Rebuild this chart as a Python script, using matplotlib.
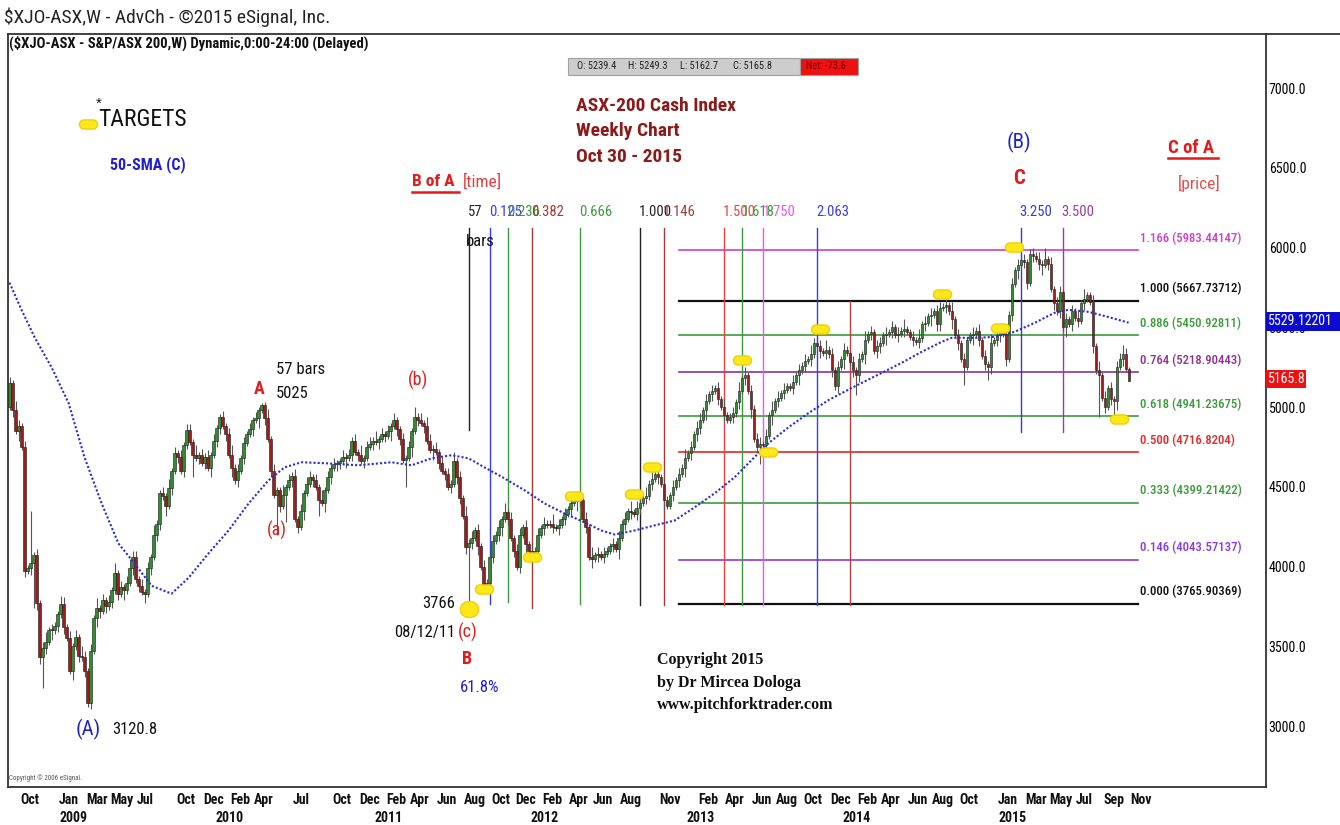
import matplotlib
matplotlib.use("Agg")
import matplotlib.pyplot as plt
import matplotlib.transforms as mtransforms
from matplotlib import font_manager
from matplotlib.lines import Line2D
from matplotlib.patches import Rectangle
from matplotlib.path import Path
import numpy as np
import pandas as pd

W, H = 1340, 825


def first_font(names):
    for name in names:
        try:
            font_manager.findfont(font_manager.FontProperties(family=name),
                                  fallback_to_default=False)
            return name
        except ValueError:
            continue
    return "DejaVu Sans"


NARROW_NAME = first_font(["Liberation Sans Narrow", "Arial Narrow", "Roboto Condensed",
                          "DejaVu Sans Condensed", "Open Sans Condensed", "Liberation Sans"])
NARROW = [NARROW_NAME, "DejaVu Sans"]
ARIAL = ["Liberation Sans", "DejaVu Sans"]
SERIF = ["Liberation Serif", "DejaVu Serif"]

# ---- weekly data (Fridays from 2008-09-05) ----
START_WEEK = "2008-09-05"
FIRST_OPEN = 5000
CLOSES = [
    5150, 4980, 4850, 4880, 4750, 3975, 3990, 4020, 4070, 3770,
    3430, 3490, 3530, 3600, 3600, 3630, 3700, 3767, 3620, 3553,
    3346, 3500, 3560, 3440, 3430, 3346, 3145, 3472, 3679, 3742,
    3720, 3790, 3750, 3780, 3850, 3960, 3830, 3870, 3850, 3900,
    3990, 4057, 3920, 3880, 3840, 3830, 3990, 4060, 4200, 4270,
    4460, 4440, 4380, 4490, 4600, 4710, 4690, 4600, 4760, 4855,
    4780, 4700, 4680, 4700, 4650, 4690, 4620, 4700, 4790, 4870,
    4935, 4880, 4830, 4700, 4620, 4540, 4600, 4680, 4775, 4830,
    4860, 4920, 4930, 4980, 5010, 4930, 4800, 4600, 4450, 4480,
    4380, 4450, 4500, 4540, 4570, 4300, 4250, 4350, 4460, 4520,
    4560, 4540, 4500, 4420, 4400, 4480, 4560, 4620, 4640, 4650,
    4660, 4690, 4680, 4700, 4790, 4720, 4700, 4660, 4680, 4750,
    4770, 4790, 4780, 4800, 4830, 4820, 4850, 4880, 4920, 4860,
    4800, 4670, 4680, 4750, 4850, 4940, 4920, 4900, 4880, 4790,
    4730, 4740, 4720, 4650, 4600, 4580, 4500, 4520, 4660, 4560,
    4430, 4320, 4120, 4150, 4180, 4230, 4130, 4000, 3890, 3900,
    4060, 4160, 4200, 4250, 4300, 4340, 4300, 4180, 4100, 4000,
    4200, 4250, 4140, 4100, 4060, 4100, 4200, 4240, 4270, 4260,
    4270, 4250, 4240, 4260, 4300, 4330, 4360, 4400, 4410, 4430,
    4420, 4300, 4250, 4060, 4050, 4070, 4080, 4060, 4080, 4100,
    4130, 4140, 4110, 4180, 4270, 4300, 4350, 4340, 4330, 4370,
    4400, 4430, 4440, 4520, 4550, 4580, 4560, 4520, 4420, 4380,
    4450, 4500, 4540, 4580, 4620, 4680, 4710, 4750, 4830, 4870,
    4920, 4980, 5040, 5080, 5100, 5120, 5050, 5000, 4950, 4920,
    4940, 4960, 5030, 5100, 5180, 5200, 5100, 4990, 4800, 4750,
    4770, 4760, 4820, 4950, 4980, 5040, 5060, 5090, 5110, 5130,
    5120, 5160, 5200, 5230, 5260, 5290, 5300, 5330, 5400, 5380,
    5350, 5340, 5360, 5330, 5230, 5130, 5250, 5300, 5360, 5340,
    5280, 5230, 5200, 5300, 5330, 5420, 5460, 5470, 5350, 5380,
    5400, 5450, 5460, 5470, 5500, 5450, 5460, 5480, 5490, 5470,
    5440, 5420, 5410, 5430, 5520, 5530, 5570, 5580, 5600, 5520,
    5620, 5630, 5640, 5600, 5550, 5450, 5400, 5300, 5250, 5420,
    5450, 5460, 5480, 5420, 5320, 5270, 5250, 5400, 5420, 5450,
    5470, 5460, 5300, 5580, 5770, 5860, 5890, 5920, 5910, 5780,
    5960, 5950, 5930, 5900, 5890, 5930, 5900, 5740, 5650, 5600,
    5720, 5500, 5550, 5520, 5600, 5560, 5540, 5650, 5680, 5700,
    5660, 5380, 5230, 5200, 5060, 5000, 5120, 5050, 5040, 5250,
    5300, 5330, 5239.4, 5165.8,
]

# wick lengths beyond the body, one digit per week, in units of WICK_UNIT points
WICK_UNIT = 20
WICK_UP = (
    "2132121312" "1231211221" "2121321213" "1212131212" "3121212131"
    "1213121212" "2131212121" "1212312121" "2121213121" "1312121212"
    "2121312121" "1212121312" "2131212121" "1212131213" "2121212131"
    "2131212121" "1212131212" "2121212121" "1312121212" "2121312121"
    "1212121312" "2131212121" "1212131212" "2121212131" "1213121212"
    "2121312121" "1212121312" "2131212121" "1212131212" "2121212131"
    "1213121212" "2121312121" "1212121312" "2131212121" "1212131212"
    "2121212131" "1213121212" "2121"
)
WICK_DN = (
    "1213121212" "2121312121" "1312121213" "2121212131" "1212131212"
    "2131212121" "1212121312" "2121312121" "1213121212" "2121212131"
    "1212131212" "2131212121" "1212121312" "2121312121" "1312121212"
    "2121213121" "1212312121" "2131212121" "1212121213" "2121312121"
    "1213121212" "2121212131" "1212131212" "2131212121" "1212121312"
    "2121312121" "1213121212" "2121212131" "1212131212" "2131212121"
    "1212121312" "2121312121" "1312121212" "2121213121" "1212312121"
    "2131212121" "1212121213" "1212"
)
HIGH_OVERRIDE = {7: 4350, 17: 3818, 41: 4100, 84: 5025, 190: 4460, 245: 5250,
                 268: 5434, 340: 5990, 345: 5996, 371: 5390, 373: 5249.3}
LOW_OVERRIDE = {8: 3740, 11: 3240, 26: 3120.8, 61: 4560, 89: 4200, 92: 4280,
                96: 4210, 103: 4320, 132: 4500, 153: 3765.9, 159: 3850,
                250: 4640, 282: 5075, 318: 5138, 326: 5170, 339: 5740,
                363: 4940, 368: 4918, 373: 5162.7}

# 50-week SMA (week index, value)
SMA_WEEK = [0, 4, 8.3, 14, 19.7, 25, 30.7, 36.3, 41.7, 47.3, 54, 59.7, 66.3, 73,
            79.7, 86.3, 91.7, 97.3, 105, 116.3, 127.3, 134, 140.7, 147.3, 153,
            158.3, 165, 171.7, 178.3, 185, 191.7, 197.3, 201.7, 208.3, 215,
            221.7, 228.3, 235, 241.7, 248.3, 253, 259.7, 266.3, 273, 279.7, 284,
            290.7, 297.3, 304, 310.7, 314, 321.7, 328.3, 335, 341.7, 348.3, 353,
            359.7, 366, 373]
SMA_VALUE = [5780, 5610, 5440, 5250, 5025, 4685, 4396, 4145, 4019, 3880, 3830,
             3930, 4082, 4226, 4396, 4540, 4622, 4654, 4648, 4635, 4654, 4635,
             4679, 4698, 4679, 4622, 4553, 4478, 4396, 4333, 4277, 4226, 4201,
             4226, 4258, 4289, 4371, 4459, 4560, 4686, 4774, 4874, 4962, 5044,
             5110, 5151, 5214, 5277, 5346, 5409, 5434, 5434, 5440, 5472, 5528,
             5591, 5610, 5597, 5566, 5529.12201]

# yellow target marks
TARGET_WEEK = [158.3, 174.3, 188, 208.3, 214.3, 244, 252.7, 270, 310.7, 330, 334.7, 369.7]
TARGET_PRICE = [3862, 4057, 4440, 4453, 4623, 5296, 4717, 5491, 5711, 5497, 6006, 4925]
B_TARGET = (153, 3736)

# Fibonacci price levels (C of A)
FIB_RATIO = ["1.166", "1.000", "0.886", "0.764", "0.618", "0.500", "0.333", "0.146", "0.000"]
FIB_PRICE = ["5983.44147", "5667.73712", "5450.92811", "5218.90443", "4941.23675",
             "4716.8204", "4399.21422", "4043.57137", "3765.90369"]
FIB_COLOR = ["#cc3fcc", "#111111", "#3c9a3c", "#8e3290", "#3c9a3c", "#e32626",
             "#3c9a3c", "#8c3ad8", "#111111"]
FIB_START, FIB_END = 223.3, 376.3

# Fibonacci time lines (B of A)
TIME_TEXT = ["57", "0.125", "0.236", "0.382", "0.666", "1.000", "1.146", "1.500",
             "1.618", "1.750", "2.063", "", "3.250", "3.500"]
TIME_WEEK = [153, 160, 166, 174, 190, 210, 218, 238, 244.3, 251.3, 269.3, 280.3, 337, 351]
TIME_COLOR = ["#222222", "#3a3aee", "#3c9a3c", "#a33a3a", "#3c9a3c", "#222222",
              "#a33a3a", "#ee4040", "#3c9a3c", "#ee55ee", "#3a3aee", "#b84040",
              "#3a3acc", "#9b3c9b"]
TIME_TOP = [6120, 6120, 6120, 6120, 6120, 6120, 6120, 6120, 6120, 6120, 6120, 5668, 6120, 6120]
TIME_BOTTOM = [4855, 3767, 3780, 3740, 3767, 3760, 3760, 3760, 3760, 3760, 3760, 3760, 4845, 4845]

MONTH_TICKS = ["2008-10", "2009-01", "2009-03", "2009-05", "2009-07", "2009-10",
               "2009-12", "2010-02", "2010-04", "2010-07", "2010-10", "2010-12",
               "2011-02", "2011-04", "2011-06", "2011-08", "2011-10", "2011-12",
               "2012-02", "2012-04", "2012-06", "2012-08", "2012-11", "2013-02",
               "2013-04", "2013-06", "2013-08", "2013-10", "2013-12", "2014-02",
               "2014-04", "2014-06", "2014-08", "2014-10", "2015-01", "2015-03",
               "2015-05", "2015-07", "2015-09", "2015-11"]
YEAR_TICKS = ["2009", "2010", "2011", "2012", "2013", "2014", "2015"]
PRICE_TICKS = [3000, 3500, 4000, 4500, 5000, 5500, 6000, 6500, 7000]


def put(fig, x, y, s, **kw):
    kw.setdefault("va", "center")
    kw.setdefault("ha", "left")
    return fig.text(x / W, 1 - y / H, s, **kw)


def stadium(aspect=2.0, n=10):
    t = np.linspace(-np.pi / 2, np.pi / 2, n)
    r = 1.0 / aspect
    right = np.c_[1 - r + r * np.cos(t), r * np.sin(t)]
    left = np.c_[-(1 - r) - r * np.cos(t), -r * np.sin(t)]
    verts = np.vstack([right, left, right[:1]])
    return Path(verts, closed=True)


closes = np.array(CLOSES, dtype=float)
n = len(closes)
opens = np.r_[FIRST_OPEN, closes[:-1]]
up = np.array([int(c) for c in WICK_UP[:n]]) * WICK_UNIT
dn = np.array([int(c) for c in WICK_DN[:n]]) * WICK_UNIT
highs = np.maximum(opens, closes) + up
lows = np.minimum(opens, closes) - dn
for k, v in HIGH_OVERRIDE.items():
    highs[k] = v
for k, v in LOW_OVERRIDE.items():
    lows[k] = v
weeks = np.arange(n)
dates = pd.date_range(START_WEEK, periods=n + 4, freq="W-FRI")

fig = plt.figure(figsize=(W / 100, H / 100), dpi=100)
ax = fig.add_axes([8 / W, 1 - 787 / H, 1258 / W, 753 / H])
ax.set_xlim(-0.5, 418.8)
ax.set_ylim(2618, 7339)

# candles
ax.vlines(weeks, lows, highs, color="#555555", lw=0.8, zorder=3)
body = closes - opens
body = np.where(np.abs(body) < 8, np.where(body >= 0, 8, -8), body)
colors = np.where(closes >= opens, "#2f8f2f", "#9e1c1c")
ax.bar(weeks, body, bottom=opens, width=0.7, color=colors,
       edgecolor="#1a1a1a", linewidth=0.4, zorder=4)

# 50 SMA
ax.plot(SMA_WEEK, SMA_VALUE, color="#2a2ad8", lw=1.5, ls=(0, (1, 1)), zorder=5)

# fib price levels
for ratio, price, col in zip(FIB_RATIO, FIB_PRICE, FIB_COLOR):
    lw = 1.6 if col == "#111111" else 1.2
    ax.plot([FIB_START, FIB_END], [float(price)] * 2, color=col, lw=lw, zorder=2)
    ax.annotate(f"{ratio} ({price})", (FIB_END, float(price)), xytext=(1, 4),
                textcoords="offset points", ha="left", va="bottom", color=col,
                fontsize=9.2, family=NARROW, weight="medium", annotation_clip=False)

# fib time lines
for text, wk, col, top, bot in zip(TIME_TEXT, TIME_WEEK, TIME_COLOR, TIME_TOP, TIME_BOTTOM):
    ax.plot([wk, wk], [bot, top], color=col, lw=1.0, zorder=2)
    if text:
        ax.text(wk - 0.3, 6225, text, color=col, fontsize=10.5, family=NARROW,
                ha="left", va="center", zorder=6)

# targets
cap = stadium()
ax.plot(TARGET_WEEK, TARGET_PRICE, ls="none", marker=cap, ms=13,
        color="#ffe81a", mec="#f0d000", zorder=7)
ax.plot([B_TARGET[0]], [B_TARGET[1]], ls="none", marker=stadium(1.15), ms=13,
        color="#ffe81a", mec="#f0d000", zorder=7)

# axes styling
for side in ("left", "top", "bottom", "right"):
    ax.spines[side].set_color("#333333")
    ax.spines[side].set_linewidth(1.3)
ax.set_xticks([])
ax.yaxis.tick_right()
ax.set_yticks(PRICE_TICKS)
ax.set_yticklabels([f"{p:.1f}" for p in PRICE_TICKS], family=NARROW, fontsize=10)
ax.tick_params(axis="y", length=0, pad=2)

# month/year labels on the bottom
trans = mtransforms.blended_transform_factory(ax.transData, ax.transAxes)
for m in MONTH_TICKS:
    k = int(np.searchsorted(dates, pd.Timestamp(m + "-01")))
    ax.text(k - 0.5, -0.017, pd.Timestamp(m + "-01").strftime("%b"), transform=trans,
            ha="left", va="center", fontsize=10, family=NARROW, weight="bold",
            color="#111111", clip_on=False)
for y in YEAR_TICKS:
    k = int(np.searchsorted(dates, pd.Timestamp(y + "-01-01")))
    ax.text(k - 0.5, -0.041, y, transform=trans, ha="left", va="center",
            fontsize=10, family=NARROW, weight="bold", color="#111111", clip_on=False)

# header lines and frame extension
fig.add_artist(Line2D([1266 / W, 1.0], [1 - 34 / H, 1 - 34 / H], color="#333333", lw=1.3))
put(fig, 4, 17, "\\$XJO-ASX,W - AdvCh - ©2015 eSignal, Inc.", fontsize=14,
    family=NARROW, color="#222222")
put(fig, 9, 43, "(\\$XJO-ASX - S&P/ASX 200,W) Dynamic,0:00-24:00 (Delayed)",
    fontsize=10.5, family=NARROW, weight="bold", color="#111111")

# OHLC info box
fig.add_artist(Rectangle((568 / W, 1 - 75 / H), 232 / W, 17 / H, transform=fig.transFigure,
                         fc="#cdcdcd", ec="#a0a0a0", lw=0.8))
fig.add_artist(Rectangle((800 / W, 1 - 75 / H), 58 / W, 17 / H, transform=fig.transFigure,
                         fc="#ee1111", ec="#a0a0a0", lw=0.8))
for x, s in [(577, "O: 5239.4"), (628, "H: 5249.3"), (680, "L: 5162.7"), (733, "C: 5165.8")]:
    put(fig, x, 66, s, fontsize=7.5, family=NARROW, color="#222222")
put(fig, 806, 66, "Net: -73.6", fontsize=7.5, family=NARROW, color="#700000")

# chart title
for y, s in [(106, "ASX-200 Cash Index"), (131, "Weekly Chart"), (157, "Oct 30 - 2015")]:
    put(fig, 576, y, s, fontsize=14, family=NARROW, weight="bold", color="#8b1a1a")

# targets legend and SMA note
fig.add_artist(Line2D([88 / W], [1 - 124 / H], marker=cap, ms=13, color="#ffe81a",
                      mec="#f0d000", ls="none"))
put(fig, 96, 104, "*", fontsize=11, family=ARIAL, color="#111111")
put(fig, 98, 119, "TARGETS", fontsize=17, family=NARROW, color="#111111")
put(fig, 110, 165, "50-SMA (C)", fontsize=11.5, family=NARROW, weight="bold", color="#1f1fd0")

# B of A / C of A headings
put(fig, 412, 182, "B of A", fontsize=12.5, family=NARROW, weight="bold", color="#e01b1b")
fig.add_artist(Line2D([412 / W, 459 / W], [1 - 192 / H] * 2, color="#e01b1b", lw=1.8))
put(fig, 463, 182, "[time]", fontsize=12.5, family=NARROW, color="#e04040")
put(fig, 1168, 148, "C of A", fontsize=13.5, family=NARROW, weight="bold", color="#e01b1b")
fig.add_artist(Line2D([1168 / W, 1218 / W], [1 - 158 / H] * 2, color="#e01b1b", lw=1.8))
put(fig, 1178, 183, "[price]", fontsize=12.5, family=NARROW, color="#e05050")
put(fig, 466, 241, "bars", fontsize=12, family=NARROW, color="#111111")

# wave labels
put(fig, 1019, 142, "(B)", fontsize=15, family=NARROW, color="#1f1fd0", ha="center")
put(fig, 1019, 178, "C", fontsize=15, family=NARROW, weight="bold", color="#e01b1b", ha="center")
put(fig, 259, 389, "A", fontsize=13, family=NARROW, weight="bold", color="#e01b1b", ha="center")
put(fig, 276, 370, "57 bars", fontsize=12, family=NARROW, color="#111111")
put(fig, 276, 394, "5025", fontsize=12, family=NARROW, color="#111111")
put(fig, 418, 380, "(b)", fontsize=13, family=NARROW, color="#e01b1b", ha="center")
put(fig, 277, 530, "(a)", fontsize=13, family=NARROW, color="#e01b1b", ha="center")
put(fig, 455, 604, "3766", fontsize=12, family=NARROW, color="#111111", ha="right")
put(fig, 455, 632, "08/12/11", fontsize=12, family=NARROW, color="#111111", ha="right")
put(fig, 468, 632, "(c)", fontsize=13, family=NARROW, color="#e01b1b", ha="center")
put(fig, 467, 659, "B", fontsize=13, family=NARROW, weight="bold", color="#e01b1b", ha="center")
put(fig, 480, 688, "61.8%", fontsize=12, family=NARROW, color="#1f1fd0", ha="center")
put(fig, 88, 729, "(A)", fontsize=15, family=NARROW, color="#1f1fd0", ha="center")
put(fig, 112, 729, "3120.8", fontsize=12, family=NARROW, color="#111111")

# copyright notes
for y, s in [(660, "Copyright 2015"), (683, "by Dr Mircea Dologa"), (705, "www.pitchforktrader.com")]:
    put(fig, 657, y, s, fontsize=11.5, family=SERIF, weight="bold", color="#111111")
put(fig, 9, 778, "Copyright © 2006 eSignal.", fontsize=5, family=NARROW, color="#555555")

# last-value boxes on the price scale
fig.add_artist(Rectangle((1266 / W, 1 - 331 / H), 74 / W, 19 / H, transform=fig.transFigure,
                         fc="#0a0ad0", ec="none", zorder=10))
put(fig, 1268, 321, "5529.12201", fontsize=10, family=NARROW, color="white", zorder=11)
fig.add_artist(Rectangle((1266 / W, 1 - 388 / H), 40 / W, 18 / H, transform=fig.transFigure,
                         fc="#ee1111", ec="none", zorder=10))
put(fig, 1268, 379, "5165.8", fontsize=10, family=NARROW, color="white", zorder=11)

fig.savefig("out.png", dpi=100, facecolor="white")
